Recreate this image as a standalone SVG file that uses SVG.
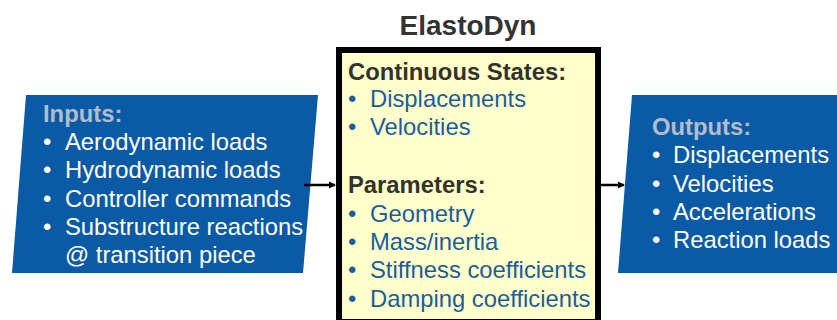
<svg xmlns="http://www.w3.org/2000/svg" width="837" height="320" viewBox="0 0 837 320">
<defs>
<style>
.t{font-family:"Liberation Sans",Arial,sans-serif;font-size:23.8px}
.w{fill:#ffffff}
.h{fill:#b4bccb;font-weight:bold}
.c{fill:#1d5c9c}
.k{fill:#33332b;font-weight:bold}
.blue{fill:#0b5aa6}
.conn{stroke:#000;stroke-width:2.5;fill:none;marker-end:url(#ah)}
</style>
<marker id="ah" markerWidth="8" markerHeight="8" refX="6" refY="4" orient="auto" markerUnits="userSpaceOnUse">
<path d="M0,0.5 L7,4 L0,7.5 Z" fill="#000"/>
</marker>
</defs>
<rect width="837" height="320" fill="#ffffff"/>
<g id="inputs">
<polygon class="blue" points="26,95 318,95 303,273 12,273"/>
<text class="t h" x="43" y="122">Inputs:</text>
<g class="t w">
<text x="43" y="150">•</text><text x="65" y="150">Aerodynamic loads</text>
<text x="43" y="178">•</text><text x="65" y="178">Hydrodynamic loads</text>
<text x="43" y="207">•</text><text x="65" y="207">Controller commands</text>
<text x="43" y="235">•</text><text x="65" y="235">Substructure reactions</text>
<text x="65" y="263">@ transition piece</text>
</g>
</g>
<g id="elastodyn">
<text class="t" x="468" y="35" text-anchor="middle" style="font-size:28px;font-weight:bold;fill:#333333">ElastoDyn</text>
<rect x="339" y="50" width="259" height="272" fill="#ffffcc" stroke="#000" stroke-width="6"/>
<text class="t k" x="348" y="80">Continuous States:</text>
<g class="t c">
<text x="348" y="107">•</text><text x="370" y="107">Displacements</text>
<text x="348" y="135">•</text><text x="370" y="135">Velocities</text>
</g>
<text class="t k" x="348" y="193">Parameters:</text>
<g class="t c">
<text x="348" y="222">•</text><text x="370" y="222">Geometry</text>
<text x="348" y="250">•</text><text x="370" y="250">Mass/inertia</text>
<text x="348" y="278">•</text><text x="370" y="278">Stiffness coefficients</text>
<text x="348" y="307">•</text><text x="370" y="307">Damping coefficients</text>
</g>
</g>
<g id="outputs">
<polygon class="blue" points="632,95 845,95 845,273 618,273"/>
<text class="t h" x="652" y="135">Outputs:</text>
<g class="t w">
<text x="652" y="163">•</text><text x="673" y="163">Displacements</text>
<text x="652" y="192">•</text><text x="673" y="192">Velocities</text>
<text x="652" y="220">•</text><text x="673" y="220">Accelerations</text>
<text x="652" y="248">•</text><text x="673" y="248">Reaction loads</text>
</g>
</g>
<g id="connectors">
<line class="conn" x1="304" y1="185" x2="335" y2="185"/>
<line class="conn" x1="601" y1="185" x2="624" y2="185"/>
</g>
</svg>
